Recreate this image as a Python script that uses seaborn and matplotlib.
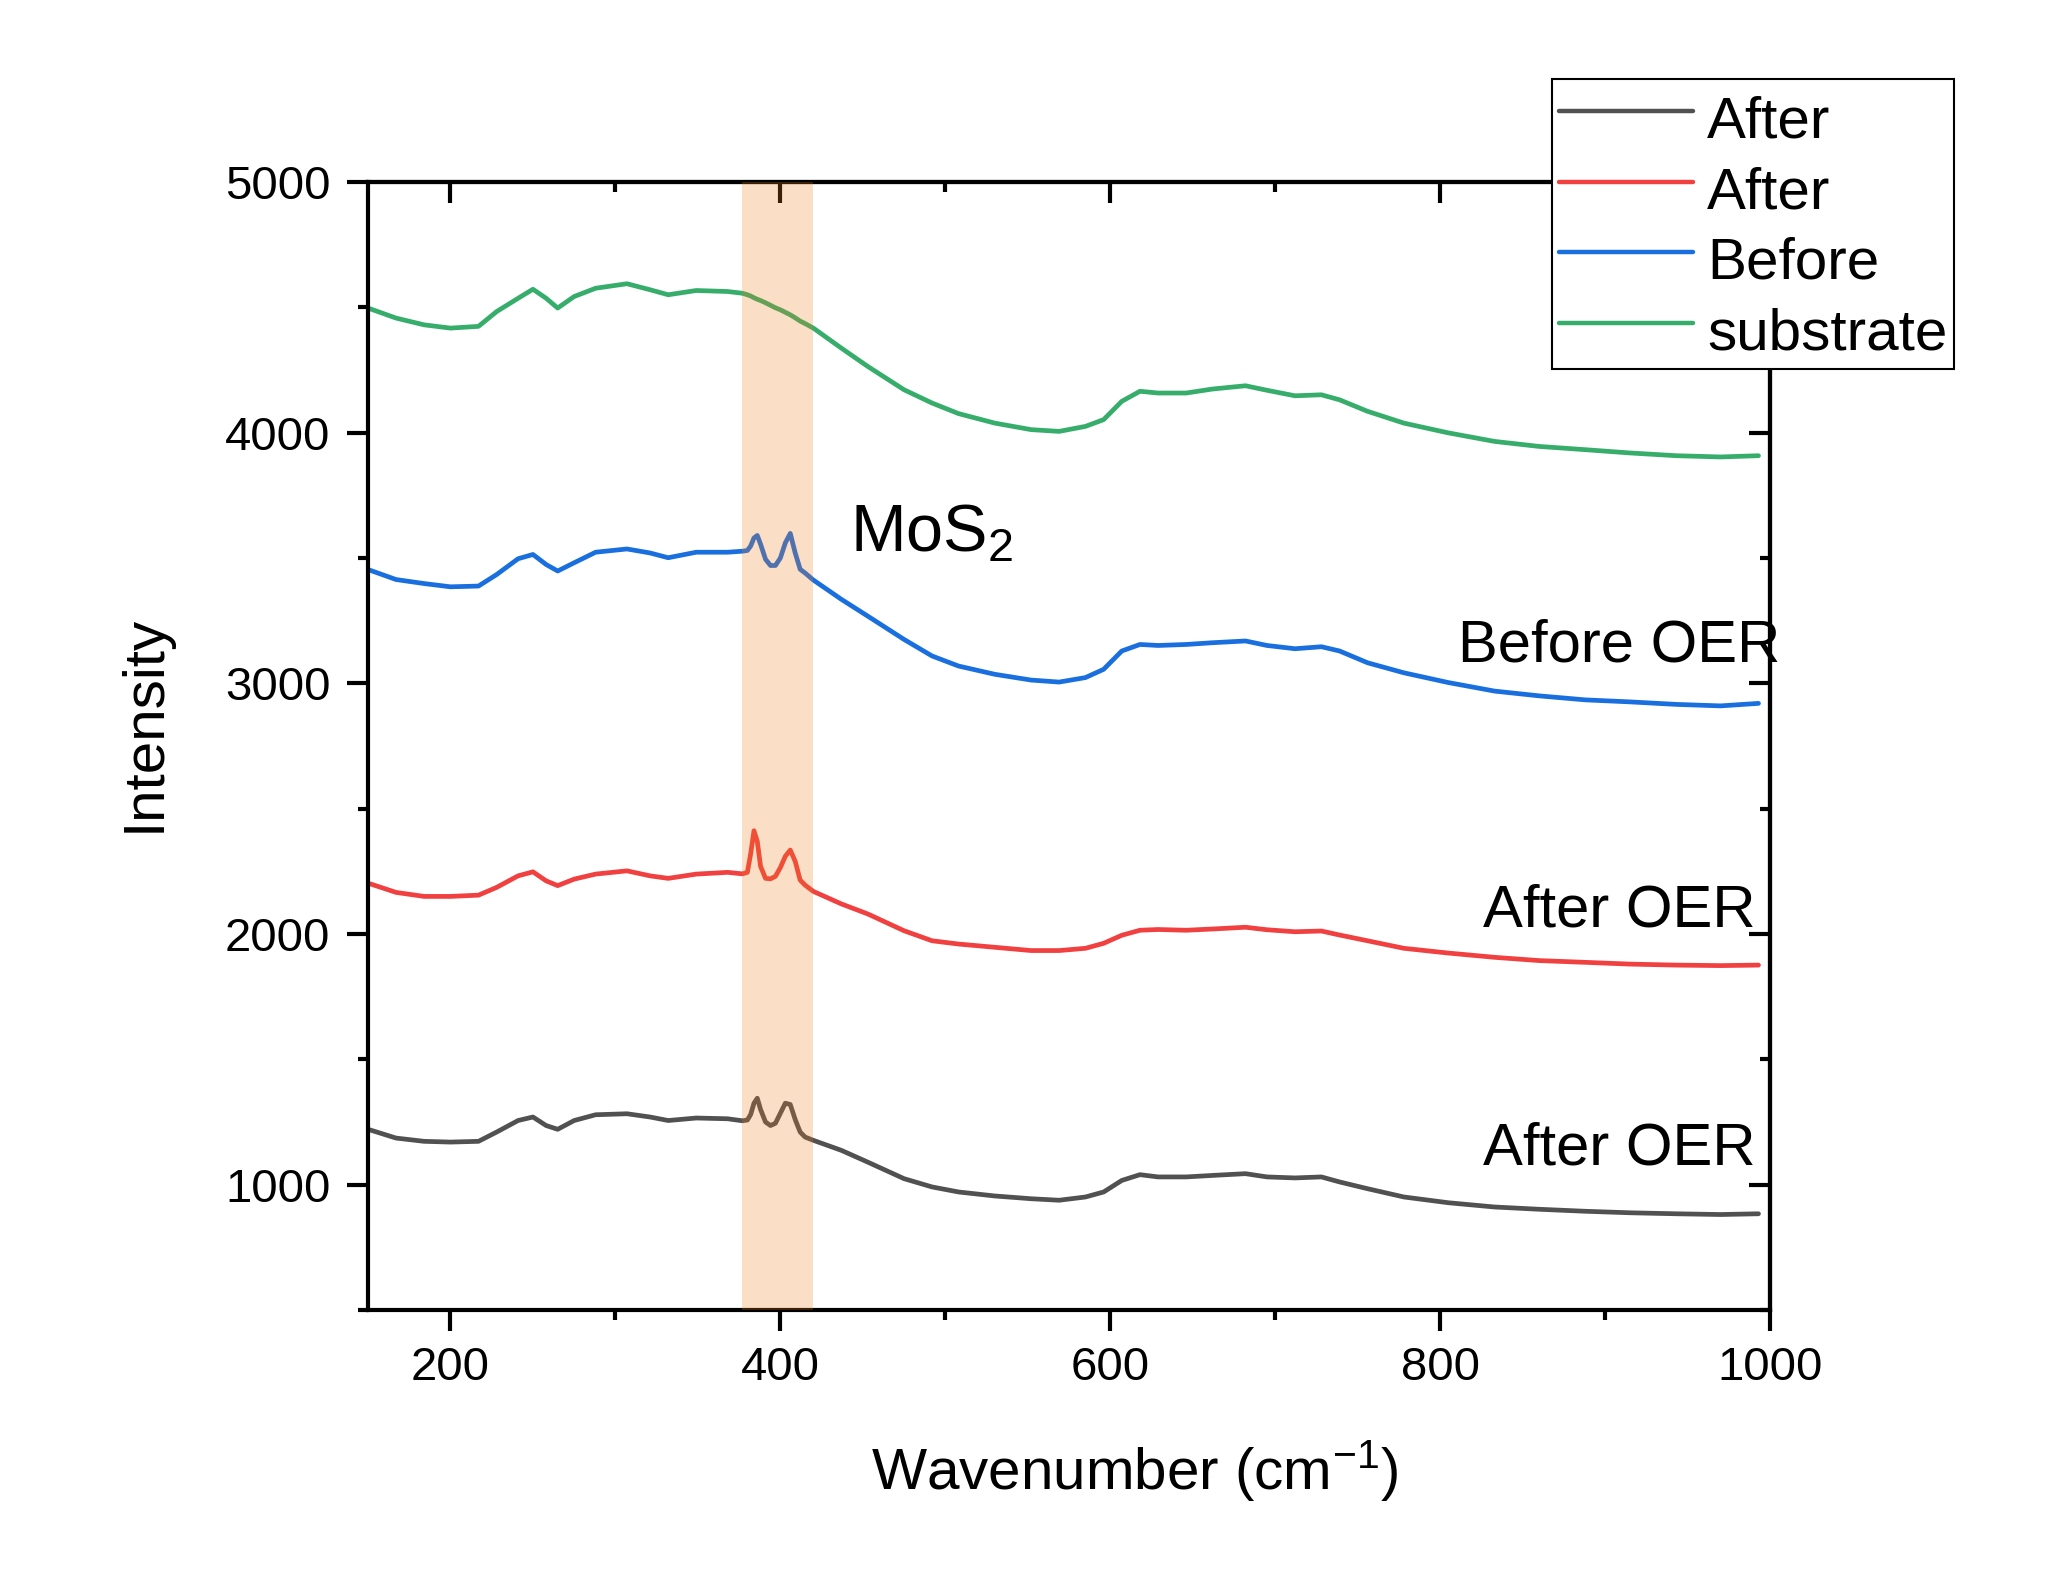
import matplotlib
matplotlib.use('Agg')
import matplotlib.pyplot as plt
import seaborn as sns
from matplotlib.ticker import MultipleLocator

# Raman spectra (wavenumber in cm-1, intensity in a.u.)
wavenumber = [150, 167, 184, 200, 217, 228, 241, 250, 258, 265, 275, 288, 307, 321, 332, 349, 368, 377,
              380, 382, 384, 386, 388, 391, 394, 397, 400, 403, 406, 409, 412, 415, 420,
              437, 453, 475, 492, 508, 530, 552, 569, 585, 596, 607, 618, 629, 646, 662, 682,
              695, 712, 728, 739, 756, 778, 805, 833, 860, 888, 915, 943, 970, 993]

after_gray = [1221, 1186, 1173, 1170, 1173, 1210, 1256, 1270, 1236, 1221, 1256, 1279, 1283, 1270, 1256, 1266, 1263, 1255,
              1258, 1280, 1325, 1345, 1300, 1250, 1236, 1245, 1285, 1325, 1320, 1260, 1210, 1190, 1177,
              1137, 1090, 1024, 991, 971, 955, 944, 938, 951, 971, 1017, 1040, 1031, 1031, 1037, 1044,
              1031, 1027, 1031, 1011, 984, 951, 928, 911, 902, 894, 888, 884, 881, 884]

after_red = [2203, 2166, 2150, 2150, 2155, 2186, 2232, 2248, 2212, 2193, 2219, 2239, 2252, 2232, 2222, 2239, 2246, 2240,
             2246, 2320, 2412, 2370, 2270, 2222, 2220, 2230, 2265, 2310, 2335, 2290, 2215, 2195, 2170,
             2120, 2080, 2013, 1973, 1960, 1947, 1934, 1934, 1943, 1963, 1995, 2015, 2018, 2015, 2020, 2027,
             2017, 2009, 2012, 1996, 1973, 1943, 1924, 1907, 1894, 1887, 1880, 1876, 1874, 1876]

before_blue = [3454, 3414, 3398, 3385, 3388, 3434, 3497, 3514, 3474, 3448, 3481, 3523, 3536, 3520, 3501, 3523, 3523, 3527,
               3530, 3548, 3580, 3590, 3555, 3495, 3470, 3470, 3500, 3560, 3598, 3520, 3455, 3440, 3412,
               3335, 3268, 3175, 3109, 3069, 3036, 3013, 3005, 3023, 3056, 3129, 3155, 3151, 3155, 3162, 3169,
               3151, 3138, 3146, 3129, 3082, 3042, 3003, 2969, 2950, 2934, 2926, 2916, 2910, 2920]

substrate_green = [4497, 4457, 4430, 4417, 4424, 4483, 4536, 4572, 4536, 4497, 4543, 4576, 4594, 4570, 4550, 4567, 4563, 4556,
                   4550, 4545, 4538, 4532, 4527, 4518, 4508, 4498, 4490, 4480, 4470, 4458, 4445, 4435, 4417,
                   4337, 4264, 4171, 4118, 4076, 4038, 4012, 4005, 4025, 4052, 4125, 4165, 4158, 4158, 4174, 4187,
                   4169, 4147, 4151, 4131, 4085, 4038, 3999, 3965, 3945, 3932, 3919, 3908, 3903, 3908]

series_labels = ['After', 'After', 'Before', 'substrate']
series_colors = ['#515151', '#F14040', '#1A6FDF', '#37AD6B']

sns.set_theme(style='white')
plt.rcParams['font.family'] = ['Liberation Sans', 'DejaVu Sans']
plt.rcParams['mathtext.fontset'] = 'custom'
plt.rcParams['mathtext.rm'] = 'Liberation Sans'
plt.rcParams['mathtext.it'] = 'Liberation Sans'
plt.rcParams['mathtext.default'] = 'regular'
plt.rcParams['text.color'] = 'black'
plt.rcParams['axes.labelcolor'] = 'black'
plt.rcParams['xtick.color'] = 'black'
plt.rcParams['ytick.color'] = 'black'

fig = plt.figure(figsize=(20.57, 15.74), dpi=100)
ax = fig.add_axes([0.1789, 0.1677, 0.8605 - 0.1789, 0.8844 - 0.1677])

for ys, lab, col in zip([after_gray, after_red, before_blue, substrate_green], series_labels, series_colors):
    sns.lineplot(x=wavenumber, y=ys, color=col, label=lab, linewidth=3.4, ax=ax, legend=False)

# MoS2 region
ax.axvspan(377, 420, color='#F07C1E', alpha=0.25, lw=0, zorder=5)

ax.set_xlim(150, 1000)
ax.set_ylim(500, 5000)
ax.xaxis.set_major_locator(MultipleLocator(200))
ax.xaxis.set_minor_locator(MultipleLocator(100))
ax.yaxis.set_major_locator(MultipleLocator(1000))
ax.yaxis.set_minor_locator(MultipleLocator(500))

for s in ax.spines.values():
    s.set_linewidth(3)
    s.set_color('black')
ax.tick_params(which='major', direction='out', length=15, width=3, color='black', labelsize=34)
ax.tick_params(which='minor', direction='out', length=7.5, width=3, color='black')
ax.tick_params(axis='x', which='both', bottom=True, pad=11)
ax.tick_params(axis='y', which='both', left=True, pad=12)

# inward ticks on top and right
top = ax.secondary_xaxis('top')
top.xaxis.set_major_locator(MultipleLocator(200))
top.xaxis.set_minor_locator(MultipleLocator(100))
top.tick_params(which='major', direction='in', length=15, width=3, labeltop=False)
top.tick_params(which='minor', direction='in', length=7.5, width=3)
top.spines['top'].set_linewidth(3)
right = ax.secondary_yaxis('right')
right.yaxis.set_major_locator(MultipleLocator(1000))
right.yaxis.set_minor_locator(MultipleLocator(500))
right.tick_params(which='major', direction='in', length=15, width=3, labelright=False)
right.tick_params(which='minor', direction='in', length=7.5, width=3)
right.spines['right'].set_linewidth(3)

ax.set_xlabel('Wavenumber (cm$^{-1}$)', fontsize=42)
ax.set_ylabel('Intensity', fontsize=42)
ax.xaxis.set_label_coords(0.547, -0.113)
ax.yaxis.set_label_coords(-0.14, 0.52)

ax.text(442, 3525, 'MoS$_2$', fontsize=48, ha='left', va='baseline')
ax.text(1006, 3086, 'Before OER', fontsize=43, ha='right', va='baseline', clip_on=False)
ax.text(991, 2030, 'After OER', fontsize=43, ha='right', va='baseline')
ax.text(991, 1080, 'After OER', fontsize=43, ha='right', va='baseline')

handles, labels = ax.get_legend_handles_labels()
leg = fig.legend(handles, labels, loc='upper right', bbox_to_anchor=(0.950, 0.950),
                 fontsize=42, frameon=True, fancybox=False, framealpha=1, edgecolor='black',
                 handlelength=2.3, handletextpad=0.25, handleheight=1.36, labelspacing=0.08,
                 borderpad=0.11, borderaxespad=0)
leg.get_frame().set_linewidth(1.5)
for line in leg.get_lines():
    line.set_linewidth(3.2)

fig.savefig('out.png', dpi=100)
